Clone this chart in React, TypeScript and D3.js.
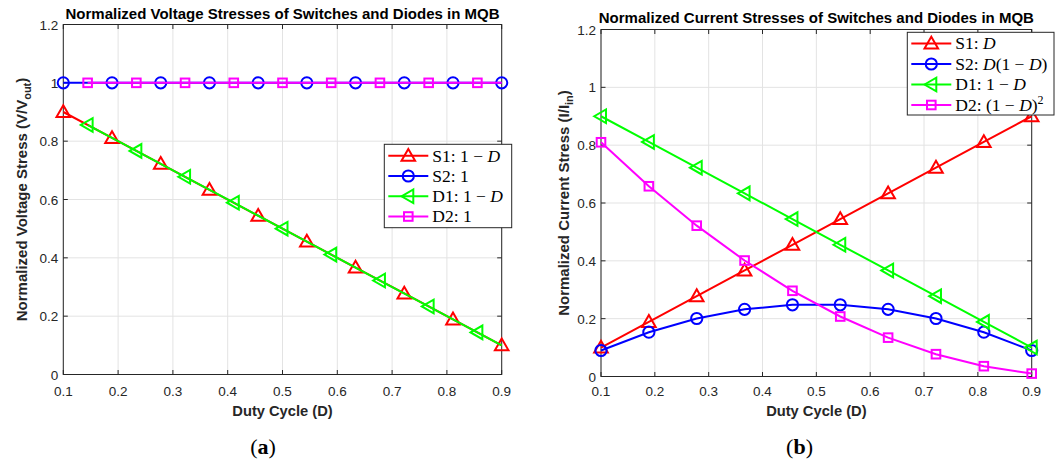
import React from "react";
import * as d3 from "d3";

// ---------- data ----------
const dutyA = [0.1, 0.1889, 0.2778, 0.3667, 0.4556, 0.5444, 0.6333, 0.7222, 0.8111, 0.9];
const dutyMid = [0.1444, 0.2333, 0.3222, 0.4111, 0.5, 0.5889, 0.6778, 0.7667, 0.8556, 0.9];

// (a) voltage stresses
const voltS1 = [0.9, 0.8111, 0.7222, 0.6333, 0.5444, 0.4556, 0.3667, 0.2778, 0.1889, 0.1];
const voltS2 = [1, 1, 1, 1, 1, 1, 1, 1, 1, 1];
const voltD1 = [0.8556, 0.7667, 0.6778, 0.5889, 0.5, 0.4111, 0.3222, 0.2333, 0.1444, 0.1];
const voltD2 = [1, 1, 1, 1, 1, 1, 1, 1, 1, 1];

// (b) current stresses
const currS1 = [0.1, 0.1889, 0.2778, 0.3667, 0.4556, 0.5444, 0.6333, 0.7222, 0.8111, 0.9];
const currS2 = [0.09, 0.1532, 0.2006, 0.2322, 0.248, 0.248, 0.2322, 0.2006, 0.1532, 0.09];
const currD1 = [0.9, 0.8111, 0.7222, 0.6333, 0.5444, 0.4556, 0.3667, 0.2778, 0.1889, 0.1];
const currD2 = [0.81, 0.6579, 0.5216, 0.4011, 0.2964, 0.2075, 0.1344, 0.0772, 0.0357, 0.01];

const xTicks = [0.1, 0.2, 0.3, 0.4, 0.5, 0.6, 0.7, 0.8, 0.9];
const xTickLabels = ["0.1", "0.2", "0.3", "0.4", "0.5", "0.6", "0.7", "0.8", "0.9"];
const yTicks = [0, 0.2, 0.4, 0.6, 0.8, 1, 1.2];
const yTickLabels = ["0", "0.2", "0.4", "0.6", "0.8", "1", "1.2"];

const SANS = "'Liberation Sans', Arial, Helvetica, sans-serif";
const SERIF = "'Liberation Serif', 'Times New Roman', serif";
const AXC = "#262626";

type Shape = "tri" | "circle" | "left" | "square";

function Marker({ shape, x, y, color }: { shape: Shape; x: number; y: number; color: string }) {
  const common = { fill: "none", stroke: color, strokeWidth: 2 };
  if (shape === "circle") return <circle cx={x} cy={y} r={5.6} {...common} />;
  if (shape === "square") return <rect x={x - 4.3} y={y - 4.3} width={8.6} height={8.6} {...common} />;
  if (shape === "tri")
    return <path d={`M${x},${y - 6.8}L${x + 6.8},${y + 5}L${x - 6.8},${y + 5}Z`} {...common} />;
  return <path d={`M${x - 6.8},${y}L${x + 5},${y - 6.8}L${x + 5},${y + 6.8}Z`} {...common} />;
}

interface Series {
  xs: number[];
  ys: number[];
  color: string;
  shape: Shape;
  nMarkers: number;
  label: React.ReactNode;
}

interface PanelProps {
  x0: number;
  x1: number;
  yTop: number;
  yBot: number;
  title: string;
  titleY: number;
  ylabel: React.ReactNode;
  ylabelX: number;
  series: Series[];
  legend: { x: number; y: number; w: number; h: number; rowY: number[] };
  caption: string;
  captionX: number;
}

function Panel(p: PanelProps) {
  const xs = d3.scaleLinear().domain([0.1, 0.9]).range([p.x0, p.x1]);
  const ys = d3.scaleLinear().domain([0, 1.2]).range([p.yBot, p.yTop]);
  const line = d3
    .line<[number, number]>()
    .x((d) => xs(d[0]))
    .y((d) => ys(d[1]));
  const cx = (p.x0 + p.x1) / 2;
  const cy = (p.yTop + p.yBot) / 2;
  const tl = 4.5;
  return (
    <g>
      {/* grid */}
      {xTicks.map((t, i) => (
        <line key={"gx" + i} x1={xs(t)} x2={xs(t)} y1={p.yTop} y2={p.yBot} stroke="#e3e3e3" strokeWidth={1} />
      ))}
      {yTicks.map((t, i) => (
        <line key={"gy" + i} x1={p.x0} x2={p.x1} y1={ys(t)} y2={ys(t)} stroke="#e3e3e3" strokeWidth={1} />
      ))}
      {/* box */}
      <rect x={p.x0} y={p.yTop} width={p.x1 - p.x0} height={p.yBot - p.yTop} fill="none" stroke={AXC} strokeWidth={1} />
      {/* ticks */}
      {xTicks.map((t, i) => (
        <g key={"tx" + i}>
          <line x1={xs(t)} x2={xs(t)} y1={p.yBot} y2={p.yBot - tl} stroke={AXC} />
          <line x1={xs(t)} x2={xs(t)} y1={p.yTop} y2={p.yTop + tl} stroke={AXC} />
          <text x={xs(t)} y={396} textAnchor="middle" fontFamily={SANS} fontSize={13.5} fill={AXC}>
            {xTickLabels[i]}
          </text>
        </g>
      ))}
      {yTicks.map((t, i) => (
        <g key={"ty" + i}>
          <line x1={p.x0} x2={p.x0 + tl} y1={ys(t)} y2={ys(t)} stroke={AXC} />
          <line x1={p.x1} x2={p.x1 - tl} y1={ys(t)} y2={ys(t)} stroke={AXC} />
          <text x={p.x0 - 5} y={ys(t) + 5} textAnchor="end" fontFamily={SANS} fontSize={13.5} fill={AXC}>
            {yTickLabels[i]}
          </text>
        </g>
      ))}
      {/* series */}
      {p.series.map((s, si) => (
        <g key={"s" + si}>
          <path
            d={line(s.xs.map((x, i) => [x, s.ys[i]] as [number, number])) || ""}
            fill="none"
            stroke={s.color}
            strokeWidth={2}
          />
          {s.xs.slice(0, s.nMarkers).map((x, i) => (
            <Marker key={i} shape={s.shape} x={xs(x)} y={ys(s.ys[i])} color={s.color} />
          ))}
        </g>
      ))}
      {/* title & labels */}
      <text x={cx} y={p.titleY} textAnchor="middle" fontFamily={SANS} fontWeight="bold" fontSize={15} fill="#000">
        {p.title}
      </text>
      <text x={cx} y={415.5} textAnchor="middle" fontFamily={SANS} fontWeight="bold" fontSize={14.7} fill={AXC}>
        Duty Cycle (D)
      </text>
      <text
        transform={`translate(${p.ylabelX},${cy}) rotate(-90)`}
        textAnchor="middle"
        fontFamily={SANS}
        fontWeight="bold"
        fontSize={15}
        fill={AXC}
      >
        {p.ylabel}
      </text>
      {/* legend */}
      <rect x={p.legend.x} y={p.legend.y} width={p.legend.w} height={p.legend.h} fill="#fff" stroke={AXC} strokeWidth={1} />
      {p.series.map((s, si) => {
        const ry = p.legend.rowY[si];
        const lx0 = p.legend.x + 4;
        const lx1 = p.legend.x + 44;
        return (
          <g key={"l" + si}>
            <line x1={lx0} x2={lx1} y1={ry} y2={ry} stroke={s.color} strokeWidth={2} />
            <Marker shape={s.shape} x={(lx0 + lx1) / 2} y={ry} color={s.color} />
            <text x={p.legend.x + 48} y={ry + 5.8} fontFamily={SERIF} fontSize={17.5} fill="#000">
              {s.label}
            </text>
          </g>
        );
      })}
      {/* caption */}
      <text x={p.captionX} y={454} textAnchor="middle" fontFamily={SERIF} fontSize={22} fill="#000">
        (<tspan fontWeight="bold">{p.caption}</tspan>)
      </text>
    </g>
  );
}

const It = ({ children }: { children: React.ReactNode }) => <tspan fontStyle="italic">{children}</tspan>;

export default function App() {
  const seriesA: Series[] = [
    { xs: dutyA, ys: voltS1, color: "#ff0000", shape: "tri", nMarkers: 10, label: <>S1:  1 − <It>D</It></> },
    { xs: dutyA, ys: voltS2, color: "#0000ff", shape: "circle", nMarkers: 10, label: <>S2:  1</> },
    { xs: dutyMid, ys: voltD1, color: "#00ff00", shape: "left", nMarkers: 9, label: <>D1:  1 − <It>D</It></> },
    { xs: dutyMid, ys: voltD2, color: "#ff00ff", shape: "square", nMarkers: 9, label: <>D2:  1</> },
  ];
  const seriesB: Series[] = [
    { xs: dutyA, ys: currS1, color: "#ff0000", shape: "tri", nMarkers: 10, label: <>S1:  <It>D</It></> },
    { xs: dutyA, ys: currS2, color: "#0000ff", shape: "circle", nMarkers: 10, label: <>S2:  <It>D</It>(1 − <It>D</It>)</> },
    { xs: dutyA, ys: currD1, color: "#00ff00", shape: "left", nMarkers: 10, label: <>D1:  1 − <It>D</It></> },
    {
      xs: dutyA,
      ys: currD2,
      color: "#ff00ff",
      shape: "square",
      nMarkers: 10,
      label: (
        <>
          D2:  (1 − <It>D</It>)<tspan dy={-7} fontSize={12}>2</tspan>
        </>
      ),
    },
  ];
  return (
    <svg width={1062} height={463} style={{ position: "absolute", left: 0, top: 0, background: "#fff" }}>
      <rect width={1062} height={463} fill="#fff" />
      <Panel
        x0={63.3}
        x1={501.7}
        yTop={24.5}
        yBot={374.5}
        title="Normalized Voltage Stresses of Switches and Diodes in MQB"
        titleY={18.5}
        ylabel={
          <>
            Normalized Voltage Stress (V/V<tspan dy={4} fontSize={11}>out</tspan>
            <tspan dy={-4}>)</tspan>
          </>
        }
        ylabelX={26.5}
        series={seriesA}
        legend={{ x: 384.3, y: 144.3, w: 127.4, h: 83.4, rowY: [155.7, 176, 196.3, 216.5] }}
        caption="a"
        captionX={263}
      />
      <Panel
        x0={601}
        x1={1031.7}
        yTop={29.5}
        yBot={376.5}
        title="Normalized Current Stresses of Switches and Diodes in MQB"
        titleY={22.5}
        ylabel={
          <>
            Normalized Current Stress (I/I<tspan dy={4} fontSize={11}>in</tspan>
            <tspan dy={-4}>)</tspan>
          </>
        }
        ylabelX={568.5}
        series={seriesB}
        legend={{ x: 907.3, y: 32.3, w: 146.7, h: 82.7, rowY: [43.5, 64, 84.5, 105] }}
        caption="b"
        captionX={799.5}
      />
    </svg>
  );
}
